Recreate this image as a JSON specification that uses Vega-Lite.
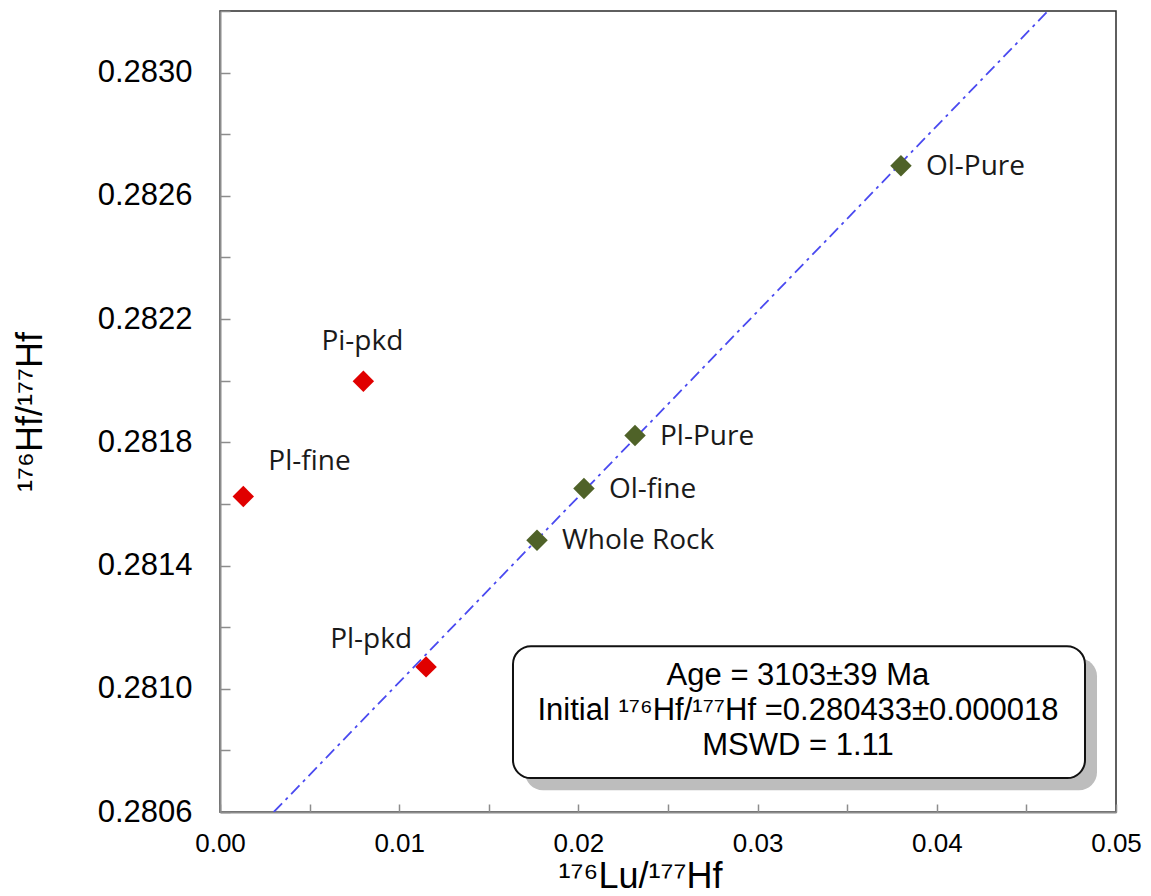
{
  "$schema": "https://vega.github.io/schema/vega-lite/v6.json",
  "width": 896,
  "height": 801,
  "autosize": {"type": "none"},
  "padding": {"left": 220, "top": 11, "right": 35, "bottom": 84},
  "background": "white",
  "config": {
    "view": {"stroke": "#2b2b2b", "strokeWidth": 1.5},
    "axis": {
      "grid": false,
      "domainColor": "#8c8c8c",
      "domainWidth": 2,
      "tickColor": "#8c8c8c",
      "tickWidth": 1.5,
      "labelFont": "Liberation Sans",
      "labelColor": "#000000",
      "titleFont": "Liberation Sans",
      "titleFontWeight": "normal",
      "titleColor": "#000000"
    }
  },
  "datasets": {
    "samples": [
      {"sample": "Ol-Pure", "lu_hf": 0.0380, "hf_hf": 0.282698, "set": "isochron"},
      {"sample": "Pl-Pure", "lu_hf": 0.02316, "hf_hf": 0.281822, "set": "isochron"},
      {"sample": "Ol-fine", "lu_hf": 0.02031, "hf_hf": 0.281650, "set": "isochron"},
      {"sample": "Whole Rock", "lu_hf": 0.01769, "hf_hf": 0.281482, "set": "isochron"},
      {"sample": "Pl-pkd", "lu_hf": 0.01150, "hf_hf": 0.281071, "set": "other"},
      {"sample": "Pi-pkd", "lu_hf": 0.00800, "hf_hf": 0.281998, "set": "other"},
      {"sample": "Pl-fine", "lu_hf": 0.00130, "hf_hf": 0.281624, "set": "other"}
    ],
    "isochron": [
      {"lu_hf": 0.0030, "hf_hf": 0.2806},
      {"lu_hf": 0.0462, "hf_hf": 0.2832}
    ],
    "summary": [
      {
        "x0": 0.01635, "x1": 0.04827, "y0": 0.28071, "y1": 0.281138,
        "sx0": 0.01702, "sx1": 0.04894, "sy0": 0.280671, "sy1": 0.281099,
        "xc": 0.03225, "yc": 0.281012,
        "label": "Age = 3103±39 Ma\nInitial ¹⁷⁶Hf/¹⁷⁷Hf =0.280433±0.000018\nMSWD = 1.11"
      }
    ]
  },
  "layer": [
    {
      "data": {"name": "isochron"},
      "mark": {"type": "line", "color": "#4a4af0", "strokeWidth": 1.8, "strokeDash": [12, 5, 3, 5], "clip": true},
      "encoding": {
        "x": {
          "field": "lu_hf", "type": "quantitative",
          "scale": {"domain": [0, 0.05], "nice": false, "zero": false},
          "axis": {
            "title": "¹⁷⁶Lu/¹⁷⁷Hf",
            "titleFontSize": 36,
            "titlePadding": 3,
            "titleX": 420,
            "values": [0, 0.005, 0.01, 0.015, 0.02, 0.025, 0.03, 0.035, 0.04, 0.045, 0.05],
            "labelExpr": "round(datum.value * 1000) % 10 == 0 ? format(datum.value, '.2f') : ''",
            "labelFontSize": 26,
            "labelPadding": 26,
            "tickSize": -8,
            "labelFlush": false,
            "labelOverlap": false
          }
        },
        "y": {
          "field": "hf_hf", "type": "quantitative",
          "scale": {"domain": [0.2806, 0.2832], "nice": false, "zero": false},
          "axis": {
            "title": "¹⁷⁶Hf/¹⁷⁷Hf",
            "titleFontSize": 36,
            "titlePadding": 48,
            "values": [0.2806, 0.2808, 0.281, 0.2812, 0.2814, 0.2816, 0.2818, 0.282, 0.2822, 0.2824, 0.2826, 0.2828, 0.283, 0.2832],
            "labelExpr": "round(datum.value * 10000) % 4 == 2 ? format(datum.value, '.4f') : ''",
            "labelFontSize": 31,
            "labelPadding": 38,
            "tickSize": -10,
            "labelFlush": false,
            "labelOverlap": false
          }
        }
      }
    },
    {
      "data": {"name": "samples"},
      "mark": {"type": "point", "shape": "diamond", "filled": true, "size": 460, "opacity": 1},
      "encoding": {
        "x": {"field": "lu_hf", "type": "quantitative"},
        "y": {"field": "hf_hf", "type": "quantitative"},
        "color": {
          "field": "set", "type": "nominal",
          "scale": {"domain": ["isochron", "other"], "range": ["#4f6228", "#e00000"]},
          "legend": null
        }
      }
    },
    {
      "data": {"name": "samples"},
      "transform": [{"filter": "datum.set == 'isochron'"}],
      "mark": {"type": "text", "align": "left", "baseline": "middle", "dx": 25, "dy": 1, "font": "Open Sans", "fontSize": 28, "color": "#1a1a1a"},
      "encoding": {
        "x": {"field": "lu_hf", "type": "quantitative"},
        "y": {"field": "hf_hf", "type": "quantitative"},
        "text": {"field": "sample"}
      }
    },
    {
      "data": {"name": "samples"},
      "transform": [{"filter": "datum.sample == 'Pl-pkd'"}],
      "mark": {"type": "text", "align": "right", "baseline": "middle", "dx": -14, "dy": -27, "font": "Open Sans", "fontSize": 28, "color": "#1a1a1a"},
      "encoding": {
        "x": {"field": "lu_hf", "type": "quantitative"},
        "y": {"field": "hf_hf", "type": "quantitative"},
        "text": {"field": "sample"}
      }
    },
    {
      "data": {"name": "samples"},
      "transform": [{"filter": "datum.sample == 'Pi-pkd'"}],
      "mark": {"type": "text", "align": "center", "baseline": "middle", "dx": -1, "dy": -39, "font": "Open Sans", "fontSize": 28, "color": "#1a1a1a"},
      "encoding": {
        "x": {"field": "lu_hf", "type": "quantitative"},
        "y": {"field": "hf_hf", "type": "quantitative"},
        "text": {"field": "sample"}
      }
    },
    {
      "data": {"name": "samples"},
      "transform": [{"filter": "datum.sample == 'Pl-fine'"}],
      "mark": {"type": "text", "align": "left", "baseline": "middle", "dx": 25, "dy": -35, "font": "Open Sans", "fontSize": 28, "color": "#1a1a1a"},
      "encoding": {
        "x": {"field": "lu_hf", "type": "quantitative"},
        "y": {"field": "hf_hf", "type": "quantitative"},
        "text": {"field": "sample"}
      }
    },
    {
      "data": {"name": "summary"},
      "mark": {"type": "rect", "fill": "#bdbdbd", "cornerRadius": 18},
      "encoding": {
        "x": {"field": "sx0", "type": "quantitative"},
        "x2": {"field": "sx1"},
        "y": {"field": "sy0", "type": "quantitative"},
        "y2": {"field": "sy1"}
      }
    },
    {
      "data": {"name": "summary"},
      "mark": {"type": "rect", "fill": "white", "stroke": "#111111", "strokeWidth": 2, "cornerRadius": 18},
      "encoding": {
        "x": {"field": "x0", "type": "quantitative"},
        "x2": {"field": "x1"},
        "y": {"field": "y0", "type": "quantitative"},
        "y2": {"field": "y1"}
      }
    },
    {
      "data": {"name": "summary"},
      "mark": {"type": "text", "align": "center", "baseline": "alphabetic", "lineBreak": "\n", "lineHeight": 35, "font": "Liberation Sans", "fontSize": 31, "color": "#000000"},
      "encoding": {
        "x": {"field": "xc", "type": "quantitative"},
        "y": {"field": "yc", "type": "quantitative"},
        "text": {"field": "label"}
      }
    }
  ]
}
